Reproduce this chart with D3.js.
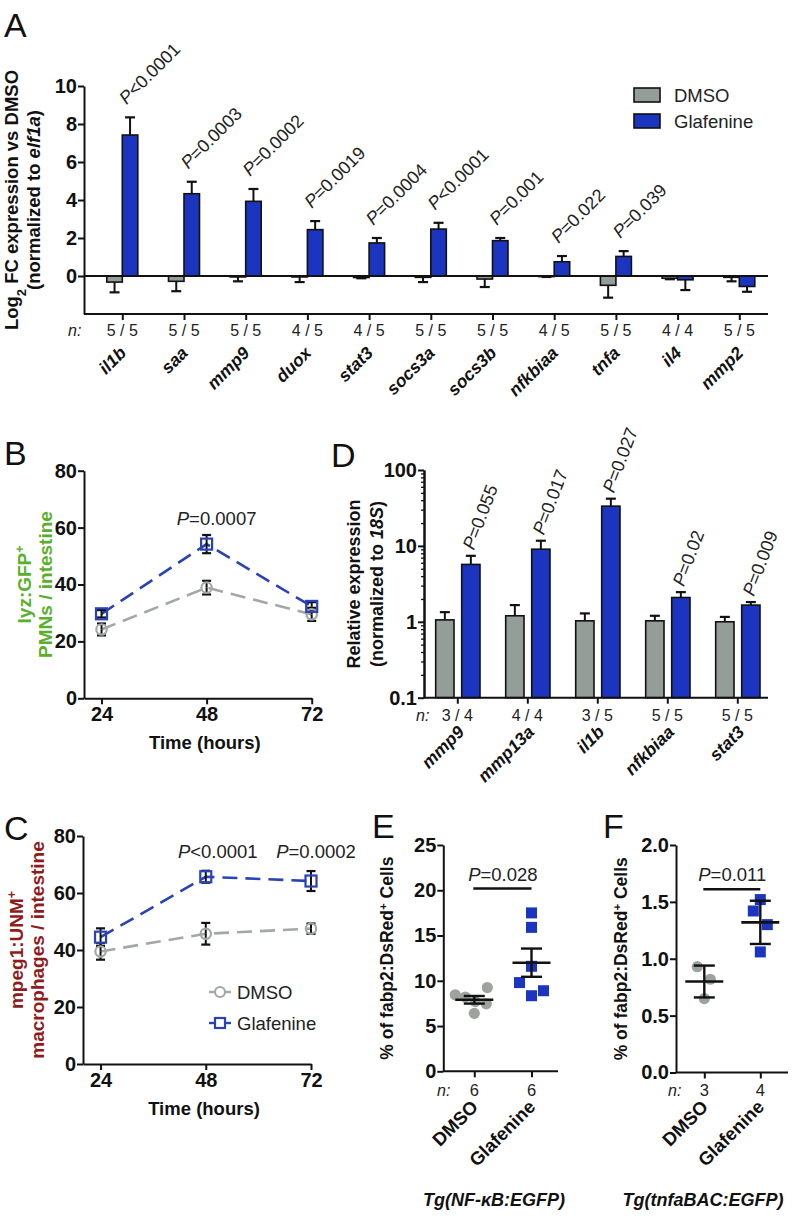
<!DOCTYPE html>
<html><head><meta charset="utf-8">
<script src="https://cdn.jsdelivr.net/npm/d3@7"></script>
<style>
body{margin:0;background:#fff;}
svg{display:block;font-family:"Liberation Sans",Arial,Helvetica,sans-serif;}
</style></head><body>
<svg id="fig" width="793" height="1216"></svg>
<script>
// ---------- DATA ----------
// Panel A
const genesA = ["il1b","saa","mmp9","duox","stat3","socs3a","socs3b","nfkbiaa","tnfa","il4","mmp2"];
const nA = ["5 / 5","5 / 5","5 / 5","4 / 5","4 / 5","5 / 5","5 / 5","4 / 5","5 / 5","4 / 4","5 / 5"];
const dmsoA = [-0.32,-0.28,-0.05,-0.05,-0.08,-0.07,-0.16,-0.03,-0.49,-0.12,-0.07];
const dmsoAErr = [0.54,0.52,0.23,0.27,0.04,0.25,0.42,0.02,0.65,0.05,0.21];
const glafA = [7.42,4.33,3.93,2.44,1.74,2.47,1.86,0.75,1.03,-0.2,-0.55];
const glafAErr = [0.93,0.63,0.65,0.45,0.26,0.33,0.14,0.3,0.28,0.54,0.28];
const pA = ["<0.0001","=0.0003","=0.0002","=0.0019","=0.0004","<0.0001","=0.001","=0.022","=0.039",null,null];
const ticksA = [0,2,4,6,8,10];
// Panel B
const timeB = [24,48,72];
const dmsoB = [24.2,38.9,29.5];
const dmsoBErr = [2.1,2.4,2.3];
const glafB = [29.7,54.2,32.3];
const glafBErr = [1.3,3.2,1.5];
const pB = [null,"=0.0007",null];
// Panel C
const timeC = [24,48,72];
const dmsoC = [39.5,45.7,47.5];
const dmsoCErr = [2.9,3.8,1.8];
const glafC = [44.5,65.7,64.2];
const glafCErr = [3.1,2.1,3.5];
const pC = [null,"<0.0001","=0.0002"];
const ticksBC = [0,20,40,60,80];
// Panel D
const genesD = ["mmp9","mmp13a","il1b","nfkbiaa","stat3"];
const nD = ["3 / 4","4 / 4","3 / 5","5 / 5","5 / 5"];
const dmsoD = [1.06,1.2,1.03,1.03,1.0];
const dmsoDErr = [0.28,0.46,0.26,0.17,0.16];
const glafD = [5.7,9.05,33.4,2.09,1.66];
const glafDErr = [1.7,2.65,8.5,0.37,0.16];
const pD = ["=0.055","=0.017","=0.027","=0.02","=0.009"];
const ticksD = [0.1,1,10,100];
// Panel E
const groupsEF = ["DMSO","Glafenine"];
const eDmso = [8.45,8.2,7.7,9.25,7.45,6.4];
const eGlaf = [17.5,15.9,11.6,9.8,8.9,8.35];
const eMean = [7.9,12.0];
const eErr = [0.42,1.56];
const nE = ["6","6"];
const ticksE = [0,5,10,15,20,25];
// Panel F
const fDmso = [0.93,0.82,0.65];
const fGlaf = [1.52,1.42,1.30,1.06];
const fMean = [0.80,1.32];
const fErr = [0.14,0.19];
const nF = ["3","4"];
const ticksF = [0,0.5,1.0,1.5,2.0];

// ---------- STYLE ----------
const GRAY="#959d99", BLUE="#1b35c0", BLUE_LINE="#2942b6", GRAY_LINE="#a3a7a6", INK="#111";
const svg = d3.select("#fig");

function styleAxis(g, size){
  g.attr("font-family",null).attr("font-size",null);
  g.selectAll("path,line").attr("stroke",INK).attr("stroke-width",2);
  g.selectAll("text").attr("font-weight","bold").attr("font-size",size||20).attr("fill",INK);
}
function pText(g,x,y,rest,size,rot,anchor){
  const t=g.append("text").attr("x",x).attr("y",y).attr("font-size",size)
    .attr("text-anchor",anchor||"start").attr("fill","#222");
  if(rot) t.attr("transform",`rotate(${rot},${x},${y})`);
  t.append("tspan").attr("font-style","italic").text("P");
  t.append("tspan").text(rest);
  return t;
}
function letter(x,y,s){
  svg.append("text").attr("x",x).attr("y",y).attr("font-size",34).attr("fill",INK).text(s);
}
function errBar(g,x,y1,y2,cap){
  g.append("line").attr("x1",x).attr("x2",x).attr("y1",y1).attr("y2",y2)
    .attr("stroke",INK).attr("stroke-width",2);
  g.append("line").attr("x1",x-cap/2).attr("x2",x+cap/2).attr("y1",y2).attr("y2",y2)
    .attr("stroke",INK).attr("stroke-width",2.2);
}
function rotLabel(g,x,y,lines,size,color){
  lines.forEach((segs,k)=>{
    const t=g.append("text").attr("transform",`translate(${x[k]},${y}) rotate(-90)`)
      .attr("text-anchor","middle").attr("font-weight","bold").attr("font-size",size).attr("fill",color||INK);
    segs.forEach(s=>{
      const ts=t.append("tspan").text(s[0]);
      if(s[1]==="i") ts.attr("font-style","italic");
      if(s[1]==="sub") ts.attr("baseline-shift","sub").attr("font-size",size*0.7);
      if(s[1]==="sup") ts.attr("baseline-shift","super").attr("font-size",size*0.65);
    });
  });
}
function slanted(g,data,fx,y,size,italic){
  g.selectAll(null).data(data).enter().append("text")
    .attr("transform",d=>"translate("+fx(d)+","+y+") rotate(-45)")
    .attr("text-anchor","end").attr("font-size",size).attr("font-weight","bold")
    .attr("font-style",italic?"italic":"normal").attr("fill",INK).text(d=>d);
}

// ---------- PANEL A ----------
(function(){
  const g=svg.append("g");
  const x=d3.scalePoint().domain(genesA).range([122.3,739.3]);
  const y=d3.scaleLinear().domain([-2,10]).range([314,86]);
  const bw=15.5;
  const series=[{v:dmsoA,e:dmsoAErr,off:-bw,c:GRAY},{v:glafA,e:glafAErr,off:0,c:BLUE}];
  series.forEach(s=>{
    g.selectAll(null).data(genesA).enter().append("rect")
      .attr("x",d=>x(d)+s.off).attr("width",bw)
      .attr("y",(d,i)=>Math.min(y(s.v[i]),y(0)))
      .attr("height",(d,i)=>Math.abs(y(s.v[i])-y(0)))
      .attr("fill",s.c).attr("stroke",INK).attr("stroke-width",1.6);
    genesA.forEach((d,i)=>{
      const v=s.v[i], sg=v<0?-1:1;
      errBar(g,x(d)+s.off+bw/2,y(v),y(v+sg*s.e[i]),10);
    });
  });
  g.append("line").attr("x1",84).attr("x2",768).attr("y1",y(0)).attr("y2",y(0))
    .attr("stroke",INK).attr("stroke-width",2);
  const ya=g.append("g").attr("transform","translate(84,0)")
    .call(d3.axisLeft(y).tickValues(ticksA).tickSize(6).tickSizeOuter(0).tickPadding(1));
  styleAxis(ya,20);
  const xa=g.append("g").attr("transform","translate(0,314)")
    .call(d3.axisBottom(x).tickSize(6).tickFormat(""));
  xa.select(".domain").attr("d","M84,0H768");
  styleAxis(xa);
  genesA.forEach((d,i)=>{
    if(!pA[i]) return;
    const top=y(glafA[i]+glafAErr[i]);
    pText(g,x(d)+bw/2-3.5,top-12,pA[i],18,-45);
  });
  g.append("text").attr("x",68).attr("y",336).attr("font-size",16).attr("font-style","italic").attr("fill","#222").text("n:");
  g.selectAll(null).data(genesA).enter().append("text")
    .attr("x",d=>x(d)).attr("y",336).attr("text-anchor","middle").attr("font-size",16).attr("fill","#222")
    .text((d,i)=>nA[i]);
  slanted(g,genesA,d=>x(d)+5,354,17.5,true);
  [["DMSO",GRAY],["Glafenine",BLUE]].forEach((l,k)=>{
    g.append("rect").attr("x",634).attr("y",88+k*26).attr("width",26).attr("height",14)
      .attr("fill",l[1]).attr("stroke",INK).attr("stroke-width",1.6);
    g.append("text").attr("x",674).attr("y",101.5+k*26).attr("font-size",18.5).attr("fill","#222").text(l[0]);
  });
  rotLabel(g,[18,40],200,[[["Log","b"],["2","sub"],[" FC expression vs DMSO","b"]],[["(normalized to ","b"],["elf1a","i"],[")","b"]]],18.5);
  letter(4,37,"A");
})();

// ---------- PANEL B & C ----------
function timePanel(o){
  const g=svg.append("g");
  const x=d3.scaleLinear().domain([20,72]).range([o.x0,o.x1]);
  const y=d3.scaleLinear().domain([0,80]).range([o.yb,o.yt]);
  const ser=[{v:o.dmso,e:o.dmsoErr,c:GRAY_LINE,m:"c"},{v:o.glaf,e:o.glafErr,c:BLUE_LINE,m:"s"}];
  ser.forEach(s=>{
    g.append("path").datum(o.t).attr("fill","none").attr("stroke",s.c).attr("stroke-width",2.6)
      .attr("stroke-dasharray","15,8")
      .attr("d",d3.line().x(d=>x(d)).y((d,i)=>y(s.v[i])));
  });
  ser.forEach(s=>{
    o.t.forEach((t,i)=>{
      errBar(g,x(t),y(s.v[i]),y(s.v[i]+s.e[i]),9);
      errBar(g,x(t),y(s.v[i]),y(s.v[i]-s.e[i]),9);
    });
  });
  ser.forEach(s=>{
    o.t.forEach((t,i)=>{
      if(s.m==="c") g.append("circle").attr("cx",x(t)).attr("cy",y(s.v[i])).attr("r",5.2)
        .attr("fill","none").attr("stroke",s.c).attr("stroke-width",2.2);
      else g.append("rect").attr("x",x(t)-5.5).attr("y",y(s.v[i])-5.5).attr("width",11).attr("height",11)
        .attr("fill","none").attr("stroke",s.c).attr("stroke-width",2.2);
    });
  });
  const ya=g.append("g").attr("transform",`translate(${o.x0},0)`)
    .call(d3.axisLeft(y).tickValues(ticksBC).tickSize(6).tickSizeOuter(0).tickPadding(1));
  styleAxis(ya,20);
  const xa=g.append("g").attr("transform",`translate(0,${o.yb})`)
    .call(d3.axisBottom(x).tickValues(o.t).tickSize(6).tickSizeOuter(0).tickPadding(3));
  styleAxis(xa,20);
  g.append("text").attr("x",(o.x0+o.x1)/2+7).attr("y",o.yb+51).attr("text-anchor","middle")
    .attr("font-size",18.5).attr("font-weight","bold").attr("fill",INK).text("Time (hours)");
  o.p.forEach((p,i)=>{ if(p) pText(g,x(o.t[i])+o.pdx[i],o.pY,p,18.5,0,"middle"); });
  rotLabel(g,o.labX,(o.yt+o.yb)/2,o.lab,19,o.labColor);
  return {g,x,y};
}
timePanel({x0:84,x1:311.7,yt:470.7,yb:698.3,t:timeB,dmso:dmsoB,dmsoErr:dmsoBErr,glaf:glafB,glafErr:glafBErr,
  p:pB,pdx:[0,10,0],pY:525,labX:[31,52],labColor:"#5aaf2c",
  lab:[[["lyz:GFP","b"],["+","sup"]],[["PMNs / intestine","b"]]]});
letter(4,465,"B");
const C=timePanel({x0:83,x1:311,yt:836,yb:1064,t:timeC,dmso:dmsoC,dmsoErr:dmsoCErr,glaf:glafC,glafErr:glafCErr,
  p:pC,pdx:[0,12,5],pY:858,labX:[23,44],labColor:"#8e1c1c",
  lab:[[["mpeg1:UNM","b"],["+","sup"]],[["macrophages / intestine","b"]]]});
letter(4,840,"C");
[["DMSO",GRAY_LINE,"c"],["Glafenine",BLUE_LINE,"s"]].forEach((l,k)=>{
  const yy=992+k*31;
  C.g.append("line").attr("x1",209).attr("x2",231).attr("y1",yy).attr("y2",yy).attr("stroke",l[1]).attr("stroke-width",2.4);
  if(l[2]==="c") C.g.append("circle").attr("cx",220).attr("cy",yy).attr("r",5).attr("fill","#fff").attr("stroke",l[1]).attr("stroke-width",2.2);
  else C.g.append("rect").attr("x",215).attr("y",yy-5).attr("width",10).attr("height",10).attr("fill","#fff").attr("stroke",l[1]).attr("stroke-width",2.2);
  C.g.append("text").attr("x",237).attr("y",yy+6.5).attr("font-size",18.5).attr("fill","#222").text(l[0]);
});

// ---------- PANEL D ----------
(function(){
  const g=svg.append("g");
  const x=d3.scalePoint().domain(genesD).range([457.3,737.3]);
  const y=d3.scaleLog().domain([0.1,100]).range([697.7,470]);
  const bw=18.3;
  const series=[{v:dmsoD,e:dmsoDErr,off:-21.6,c:GRAY},{v:glafD,e:glafDErr,off:4.4,c:BLUE}];
  series.forEach(s=>{
    genesD.forEach((d,i)=>{
      errBar(g,x(d)+s.off+bw/2,y(s.v[i]),y(s.v[i]+s.e[i]),10);
    });
    g.selectAll(null).data(genesD).enter().append("rect")
      .attr("x",d=>x(d)+s.off).attr("width",bw)
      .attr("y",(d,i)=>y(s.v[i])).attr("height",(d,i)=>y(0.1)-y(s.v[i]))
      .attr("fill",s.c).attr("stroke",INK).attr("stroke-width",1.6);
  });
  const minor=y.ticks().filter(v=>ticksD.indexOf(v)<0);
  const ym=g.append("g").attr("transform","translate(424,0)")
    .call(d3.axisLeft(y).tickValues(minor).tickSize(3).tickSizeOuter(0).tickFormat(""));
  styleAxis(ym);
  ym.selectAll("line").attr("stroke-width",1.3);
  const ya=g.append("g").attr("transform","translate(424,0)")
    .call(d3.axisLeft(y).tickValues(ticksD).tickSize(6).tickSizeOuter(0).tickPadding(1)
      .tickFormat(d=>d<1?"0.1":d3.format("d")(d)));
  styleAxis(ya,20);
  const xa=g.append("g").attr("transform","translate(0,697.7)")
    .call(d3.axisBottom(x).tickSize(6).tickFormat(""));
  xa.select(".domain").attr("d","M424,0H768");
  styleAxis(xa);
  genesD.forEach((d,i)=>{
    const top=y(glafD[i]+glafDErr[i]);
    pText(g,x(d)+4.4+bw/2+3,top-5,pD[i],18,-69);
  });
  g.append("text").attr("x",416).attr("y",721).attr("font-size",16).attr("font-style","italic").attr("fill","#222").text("n:");
  g.selectAll(null).data(genesD).enter().append("text")
    .attr("x",d=>x(d)).attr("y",721).attr("text-anchor","middle").attr("font-size",16).attr("fill","#222")
    .text((d,i)=>nD[i]);
  slanted(g,genesD,d=>x(d)+8,733,17.5,true);
  rotLabel(g,[360,383],584,[[["Relative expression","b"]],[["(normalized to ","b"],["18S","i"],[")","b"]]],18);
  letter(331,467,"D");
})();

// ---------- PANELS E & F ----------
function dotPanel(o){
  const g=svg.append("g");
  const x=d3.scalePoint().domain(groupsEF).range([o.p0,o.p1]);
  const y=d3.scaleLinear().domain(o.dom).range([o.yb,o.yt]);
  o.dmso.forEach((v,i)=>g.append("circle").attr("cx",x("DMSO")+o.jd[i]).attr("cy",y(v)).attr("r",o.r)
    .attr("fill","#9ca39f"));
  o.glaf.forEach((v,i)=>g.append("rect").attr("x",x("Glafenine")+o.jg[i]-o.s/2).attr("y",y(v)-o.s/2)
    .attr("width",o.s).attr("height",o.s).attr("fill",BLUE));
  groupsEF.forEach((k,i)=>{
    const cx=x(k);
    g.append("line").attr("x1",cx).attr("x2",cx).attr("y1",y(o.mean[i]+o.err[i])).attr("y2",y(o.mean[i]-o.err[i]))
      .attr("stroke",INK).attr("stroke-width",2.4);
    g.append("line").attr("x1",cx-19).attr("x2",cx+19).attr("y1",y(o.mean[i])).attr("y2",y(o.mean[i]))
      .attr("stroke",INK).attr("stroke-width",2.6);
    [1,-1].forEach(sg=>g.append("line").attr("x1",cx-10.5).attr("x2",cx+10.5)
      .attr("y1",y(o.mean[i]+sg*o.err[i])).attr("y2",y(o.mean[i]+sg*o.err[i]))
      .attr("stroke",INK).attr("stroke-width",2.4));
  });
  const ya=g.append("g").attr("transform",`translate(${o.ax0},0)`)
    .call(d3.axisLeft(y).tickValues(o.ticks).tickSize(6).tickSizeOuter(0).tickPadding(1).tickFormat(o.fmt));
  styleAxis(ya,20);
  const xa=g.append("g").attr("transform",`translate(0,${o.yb})`)
    .call(d3.axisBottom(x).tickSize(6).tickFormat(""));
  xa.select(".domain").attr("d",`M${o.ax0},0H${o.ax1}`);
  styleAxis(xa);
  g.append("line").attr("x1",x("DMSO")-1).attr("x2",x("Glafenine")).attr("y1",o.brY).attr("y2",o.brY)
    .attr("stroke",INK).attr("stroke-width",2.4);
  pText(g,(x("DMSO")+x("Glafenine"))/2,o.brY-8,o.p,18.5,0,"middle");
  g.append("text").attr("x",o.nX).attr("y",1096).attr("font-size",16).attr("font-style","italic").attr("fill","#222").text("n:");
  groupsEF.forEach((k,i)=>g.append("text").attr("x",x(k)).attr("y",1096).attr("text-anchor","middle")
    .attr("font-size",16.5).attr("fill","#222").text(o.n[i]));
  slanted(g,groupsEF,d=>x(d)+5,1108,18.5,false);
  const t=g.append("text").attr("transform",`translate(${o.labX},${(o.yt+o.yb)/2}) rotate(-90)`)
    .attr("text-anchor","middle").attr("font-weight","bold").attr("font-size",17.5).attr("fill",INK);
  t.append("tspan").text("% of fabp2:DsRed");
  t.append("tspan").attr("baseline-shift","super").attr("font-size",11.5).text("+");
  t.append("tspan").text(" Cells");
  g.append("text").attr("x",o.tgX).attr("y",1206).attr("text-anchor","middle").attr("font-size",18)
    .attr("font-weight","bold").attr("font-style","italic").attr("fill",INK).text(o.tg);
}
dotPanel({p0:474.3,p1:531.5,ax0:443.3,ax1:558,yb:1071.3,yt:845,dom:[0,25],ticks:ticksE,fmt:d3.format("d"),
  dmso:eDmso,glaf:eGlaf,mean:eMean,err:eErr,jd:[-19,-9,1,13,12,0],jg:[0,0,0,-12,12,0],r:5.6,s:11,
  brY:888.5,p:"=0.028",n:nE,nX:437,labX:393,tgX:494,tg:"Tg(NF-\u03BAB:EGFP)"});
letter(372,838,"E");
dotPanel({p0:704.3,p1:760.3,ax0:676,ax1:788,yb:1072.5,yt:845,dom:[0,2],ticks:ticksF,fmt:d3.format(".1f"),
  dmso:fDmso,glaf:fGlaf,mean:fMean,err:fErr,jd:[-7,6,0],jg:[0,-7,7,0],r:5.6,s:11,
  brY:889.3,p:"=0.011",n:nF,nX:668,labX:627,tgX:703,tg:"Tg(tnfaBAC:EGFP)"});
letter(603,838,"F");
</script>
</body></html>
